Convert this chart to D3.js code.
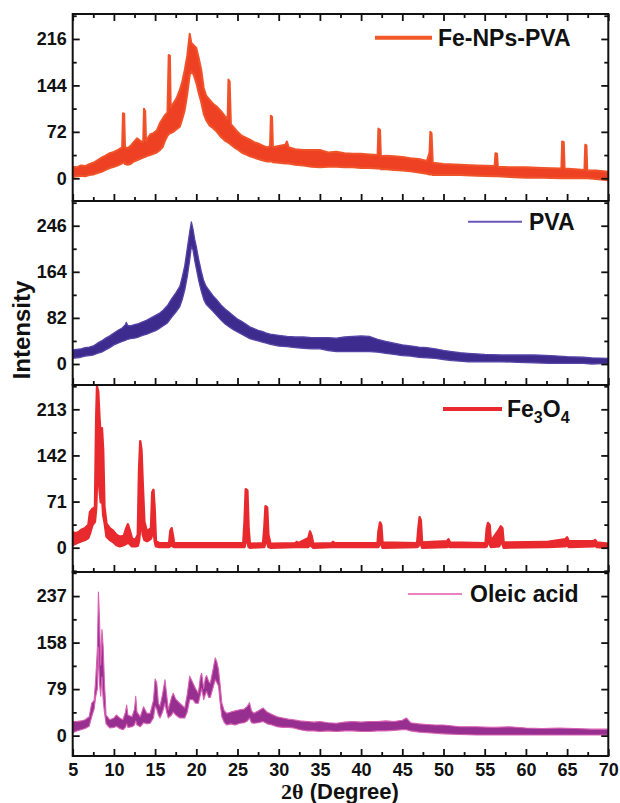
<!DOCTYPE html>
<html lang="en">
<head>
<meta charset="UTF-8">
<title>XRD patterns</title>
<script src="https://d3js.org/d3.v7.min.js"></script>
<style>
  body { margin: 0; background: #fff; }
  svg text { font-family: "Liberation Sans", Arial, sans-serif; font-weight: bold; fill: #111; }
</style>
</head>
<body>
<svg id="chart" width="620" height="803"></svg>
<script>
// each row: [2theta, lower edge of the noisy trace, upper edge]
const feNpsPva = [
  [5, 2, 18], [5.5, 3, 17], [6, 4, 20], [6.5, 3, 19], [7, 5, 22], [7.5, 6, 24], [8, 8, 28],
  [8.5, 10, 32], [9, 13, 35], [9.5, 16, 39], [10, 18, 41], [10.5, 20, 44], [11, 23, 48],
  [11.1, 24, 101], [11.25, 24, 100], [11.35, 22, 48], [11.7, 21, 47], [12, 22, 50],
  [12.4, 26, 56], [12.8, 28, 62], [13.2, 30, 58], [13.55, 32, 56], [13.65, 33, 108],
  [13.8, 33, 104], [13.9, 34, 58], [14.4, 36, 68], [14.8, 38, 70], [15.2, 40, 74],
  [15.6, 44, 86], [15.9, 48, 92], [16.2, 58, 98], [16.5, 66, 102], [16.65, 68, 191],
  [16.8, 70, 190], [16.9, 70, 110], [17.2, 72, 116], [17.6, 76, 124], [18, 80, 137],
  [18.3, 92, 150], [18.6, 106, 168], [18.9, 130, 190], [19.2, 160, 224], [19.4, 166, 210],
  [19.7, 160, 206], [20, 148, 202], [20.3, 132, 186], [20.6, 118, 168], [20.9, 100, 140],
  [21.2, 90, 128], [21.6, 82, 122], [22, 78, 116], [22.5, 72, 111], [23, 64, 104],
  [23.5, 58, 96], [23.8, 56, 92], [23.9, 55, 153], [24.05, 54, 150], [24.2, 52, 84],
  [24.6, 48, 78], [25, 45, 72], [25.5, 40, 66], [26, 37, 63], [26.5, 34, 60], [27, 32, 56],
  [27.5, 30, 54], [28, 28, 51], [28.6, 26, 48], [28.95, 26, 50], [29.05, 26, 97],
  [29.2, 26, 95], [29.3, 25, 48], [30, 24, 50], [30.8, 23, 52], [31, 23, 57], [31.2, 23, 48],
  [32, 21, 45], [33, 20, 44], [34, 18, 44], [35, 17, 44], [36, 18, 40], [37, 18, 41],
  [38, 17, 39], [39, 17, 38], [40, 16, 38], [41, 16, 37], [42, 15, 36], [42.1, 15, 77],
  [42.3, 15, 75], [42.4, 14, 34], [43, 14, 35], [44, 13, 34], [45, 12, 33], [46, 11, 31],
  [47, 9, 30], [48, 7, 27], [48.3, 6, 40], [48.4, 6, 72], [48.55, 6, 70], [48.7, 5, 24],
  [50, 5, 22], [52, 5, 21], [54, 4, 20], [56.2, 3, 19], [56.3, 3, 39], [56.5, 3, 38],
  [56.6, 3, 18], [58, 2, 17], [60, 1, 17], [62, 1, 16], [64.3, 0, 15], [64.4, 0, 57],
  [64.6, 0, 56], [64.7, 0, 15], [66, 0, 14], [67.1, 0, 13], [67.2, 0, 52], [67.35, 0, 51],
  [67.45, 0, 12], [68.5, -1, 12], [70, -3, 10]
];

const pva = [
  [5, 10, 25], [5.5, 11, 26], [6, 12, 27], [6.5, 14, 29], [7, 15, 30], [7.5, 16, 32],
  [8, 19, 37], [8.5, 21, 41], [9, 25, 46], [9.5, 29, 50], [10, 34, 55], [10.5, 37, 60],
  [11, 40, 64], [11.4, 42, 70], [11.5, 43, 74], [11.7, 44, 68], [12, 45, 68], [12.5, 46, 70],
  [13, 48, 72], [13.5, 51, 75], [14, 53, 78], [14.5, 56, 82], [15, 59, 86], [15.5, 63, 90],
  [16, 68, 96], [16.5, 73, 104], [17, 83, 116], [17.5, 92, 126], [18, 102, 138],
  [18.3, 115, 155], [18.6, 132, 175], [18.9, 155, 205], [19.2, 185, 235], [19.4, 209, 253],
  [19.6, 203, 240], [19.8, 185, 222], [20, 170, 209], [20.3, 148, 185], [20.6, 130, 165],
  [20.9, 115, 148], [21.2, 106, 138], [21.6, 100, 130], [22, 94, 122], [22.5, 86, 114],
  [23, 78, 105], [23.5, 71, 98], [24, 66, 92], [24.5, 61, 86], [25, 57, 80], [25.5, 53, 76],
  [26, 49, 71], [26.5, 45, 66], [27, 43, 63], [27.5, 41, 60], [28, 39, 58], [28.5, 37, 55],
  [29, 35, 53], [30, 32, 51], [31, 31, 49], [32, 29, 48], [33, 28, 48], [34, 27, 47],
  [35, 27, 47], [36, 24, 47], [37, 22, 46], [38, 22, 48], [39, 22, 49], [40, 22, 50],
  [41, 22, 49], [42, 21, 44], [43, 19, 40], [44, 17, 37], [45, 15, 34], [46, 14, 32],
  [47, 12, 30], [48, 11, 29], [49, 10, 27], [50, 8, 24], [51, 6, 22], [52, 5, 20],
  [53, 4, 19], [55, 4, 17], [57, 4, 16], [59, 3, 16], [61, 2, 16], [63, 1, 15], [65, 1, 13],
  [67, 1, 12], [68, 0, 11], [70, 1, 10]
];

const fe3o4 = [
  [5, 4, 24], [5.3, 6, 22], [5.7, 8, 24], [6.1, 10, 28], [6.5, 12, 30], [6.9, 15, 35],
  [7.1, 22, 55], [7.4, 35, 60], [7.7, 40, 62], [7.85, 60, 200], [7.95, 100, 248],
  [8.1, 120, 240], [8.25, 90, 200], [8.4, 70, 170], [8.55, 80, 184], [8.7, 50, 150],
  [8.85, 40, 63], [9.1, 17, 37], [9.5, 12, 30], [9.9, 9, 26], [10.3, 4, 20], [10.7, 2, 17],
  [11.2, 4, 18], [11.5, 6, 30], [11.7, 8, 36], [11.9, 6, 28], [12.2, 2, 14], [12.6, 2, 12],
  [12.9, 3, 20], [13.05, 10, 120], [13.2, 30, 164], [13.35, 40, 150], [13.5, 20, 99],
  [13.7, 12, 40], [14, 10, 25], [14.3, 12, 28], [14.5, 14, 30], [14.65, 20, 85],
  [14.8, 30, 89], [14.95, 10, 60], [15.1, 2, 10], [15.5, 1, 7], [16, 1, 7], [16.7, 1, 7],
  [16.85, 3, 26], [17, 4, 30], [17.15, 2, 20], [17.3, 1, 7], [20, 1, 7], [23, 1, 7],
  [25.7, 1, 7], [25.85, 1, 40], [26, 10, 90], [26.2, 10, 88], [26.35, 1, 30], [26.5, 0, 6],
  [28.1, 1, 7], [28.25, 1, 30], [28.4, 8, 64], [28.6, 8, 62], [28.75, 1, 20], [29, 0, 6],
  [32, 1, 7], [32.2, 1, 9], [32.4, 1, 7], [33.6, 1, 15], [33.8, 4, 25], [34, 2, 18],
  [34.2, 0, 6], [36.4, 1, 7], [36.6, 1, 9], [36.8, 1, 7], [42, 1, 7], [42.1, 1, 25],
  [42.3, 8, 39], [42.45, 5, 35], [42.6, 0, 8], [46.8, 1, 7], [46.95, 2, 30], [47.1, 8, 47],
  [47.25, 6, 42], [47.4, 0, 8], [50.4, 1, 10], [50.6, 2, 13], [50.8, 1, 8], [55.1, 1, 7],
  [55.25, 2, 30], [55.4, 8, 38], [55.6, 6, 35], [55.75, 1, 10], [56.75, 2, 28],
  [56.95, 8, 33], [57.15, 6, 30], [57.3, 0, 8], [62.4, 1, 9], [62.6, 1, 9], [64.8, 2, 13],
  [65, 4, 16], [65.2, 1, 10], [68.2, 2, 10], [68.4, 3, 12], [68.6, 1, 8], [70, 0, 6]
];

const oleicAcid = [
  [5, 5, 24], [5.5, 8, 24], [6, 10, 25], [6.5, 12, 27], [7, 16, 32], [7.3, 32, 55],
  [7.6, 45, 60], [7.8, 67, 98], [8, 80, 150], [8.12, 150, 244], [8.25, 90, 200],
  [8.4, 67, 120], [8.55, 100, 180], [8.7, 60, 150], [8.85, 40, 92], [9.05, 20, 35],
  [9.5, 13, 27], [10, 14, 30], [10.3, 16, 35], [10.7, 12, 30], [11.1, 10, 27], [11.4, 14, 40],
  [11.55, 20, 52], [11.7, 14, 35], [12.2, 15, 32], [12.5, 18, 45], [12.65, 25, 67],
  [12.8, 18, 40], [13.2, 15, 32], [13.6, 22, 49], [14, 20, 38], [14.4, 21, 38],
  [14.8, 30, 60], [15, 50, 96], [15.2, 45, 90], [15.4, 35, 55], [15.6, 30, 50],
  [15.9, 40, 70], [16.2, 55, 95], [16.4, 40, 70], [16.6, 30, 44], [17, 35, 65],
  [17.2, 40, 72], [17.5, 35, 62], [18, 30, 55], [18.6, 30, 47], [18.9, 40, 70],
  [19.2, 61, 101], [19.6, 61, 89], [19.9, 55, 80], [20.25, 55, 72], [20.5, 70, 100],
  [20.65, 80, 106], [20.9, 61, 80], [21.1, 70, 98], [21.25, 75, 102], [21.5, 65, 92],
  [21.7, 65, 89], [22, 80, 110], [22.3, 95, 132], [22.5, 90, 125], [22.7, 84, 112],
  [22.9, 55, 85], [23.1, 32, 55], [23.4, 22, 42], [23.7, 18, 38], [24.2, 20, 40],
  [24.7, 18, 42], [25.3, 21, 44], [25.8, 22, 45], [26.2, 25, 50], [26.45, 30, 56],
  [26.7, 22, 42], [27, 21, 38], [27.5, 22, 42], [28.1, 24, 47], [28.6, 20, 40],
  [29.2, 18, 36], [29.8, 15, 32], [30.5, 14, 30], [31.2, 14, 28], [31.8, 13, 27],
  [32.6, 10, 25], [33.5, 8, 24], [34.3, 8, 23], [35, 7, 24], [36, 8, 22], [37, 7, 21],
  [38, 8, 23], [39, 8, 24], [40, 7, 23], [41, 7, 24], [42, 8, 24], [43, 8, 25], [44, 9, 24],
  [45, 10, 26], [45.5, 10, 30], [46, 8, 22], [47, 6, 20], [48, 5, 19], [49, 4, 18],
  [50, 3, 18], [52, 2, 15], [54, 1, 15], [56, 1, 14], [58, 1, 15], [60, 1, 13], [62, 1, 12],
  [64, 1, 13], [66, 1, 12], [68, 1, 11], [70, 1, 11]
];

const ticksFeNpsPva = [0, 72, 144, 216];
const ticksPva = [0, 82, 164, 246];
const ticksFe3o4 = [0, 71, 142, 213];
const ticksOleicAcid = [0, 79, 158, 237];
const xTicks = [5, 10, 15, 20, 25, 30, 35, 40, 45, 50, 55, 60, 65, 70];

const svg = d3.select("#chart");
const left = 72.7, right = 608.3;

const x = d3.scaleLinear().domain([5, 70]).range([left, right]);

const panels = [
  { label: "Fe-NPs-PVA", data: feNpsPva, ticks: ticksFeNpsPva, top: 14, bottom: 201,
    domain: [-35.2, 254.7], fill: "#ee4124", edge: "#f0532a", edgeW: 2,
    key: "#f15a26", keyW: 4, keyX: [375, 432], keyY: 37.7, textX: 438 },
  { label: "PVA", data: pva, ticks: ticksPva, top: 201, bottom: 385,
    domain: [-37.4, 290], fill: "#3d2c8d", edge: "#5544a6", edgeW: 1.3,
    key: "#6b57b8", keyW: 2, keyX: [468, 522], keyY: 221.7, textX: 529 },
  { label: "Fe3O4", data: fe3o4, ticks: ticksFe3o4, top: 385, bottom: 572,
    domain: [-37.4, 250.4], fill: "#e8292d", edge: "#e8292d", edgeW: 2.4,
    key: "#e8292d", keyW: 4, keyX: [443, 502], keyY: 409, textX: 507 },
  { label: "Oleic acid", data: oleicAcid, ticks: ticksOleicAcid, top: 572, bottom: 756,
    domain: [-34.6, 277.9], fill: "#962f8f", edge: "#d861b2", edgeW: 1.1,
    key: "#ea82c2", keyW: 2, keyX: [408, 462], keyY: 594, textX: 470 }
];

const defs = svg.append("defs");

panels.forEach((p, i) => {
  const y = d3.scaleLinear().domain(p.domain).range([p.bottom, p.top]);
  const g = svg.append("g");

  defs.append("clipPath").attr("id", "clip" + i)
    .append("rect").attr("x", left).attr("y", p.top)
    .attr("width", right - left).attr("height", p.bottom - p.top);

  const area = d3.area()
    .x(d => x(d[0]))
    .y0(d => y(d[1]))
    .y1(d => y(d[2]));

  g.append("path")
    .datum(p.data)
    .attr("clip-path", `url(#clip${i})`)
    .attr("d", area)
    .attr("fill", p.fill)
    .attr("stroke", p.edge)
    .attr("stroke-width", p.edgeW)
    .attr("stroke-linejoin", "round");

  // y axes: majors with labels on the left, minors halfway
  const step = p.ticks[1] - p.ticks[0];
  const minors = [];
  for (let v = -step / 2; v <= p.domain[1]; v += step) if (v >= p.domain[0]) minors.push(v);

  g.append("g").attr("class", "ax").attr("transform", `translate(${left},0)`)
    .call(d3.axisLeft(y).tickValues(p.ticks).tickSizeInner(-7).tickSizeOuter(0).tickPadding(6));
  g.append("g").attr("class", "ax").attr("transform", `translate(${left},0)`)
    .call(d3.axisLeft(y).tickValues(minors).tickSizeInner(-4).tickSizeOuter(0).tickFormat(""));
  g.append("g").attr("class", "ax").attr("transform", `translate(${right},0)`)
    .call(d3.axisRight(y).tickValues(p.ticks).tickSizeInner(-7).tickSizeOuter(0).tickFormat(""));
  g.append("g").attr("class", "ax").attr("transform", `translate(${right},0)`)
    .call(d3.axisRight(y).tickValues(minors).tickSizeInner(-4).tickSizeOuter(0).tickFormat(""));

  // bottom axis of each panel, labels only on the last
  const last = i === panels.length - 1;
  const xMinors = xTicks.slice(0, -1).map(v => v + 2.5);
  g.append("g").attr("class", "ax").attr("transform", `translate(0,${p.bottom})`)
    .call(d3.axisBottom(x).tickValues(xTicks).tickSizeInner(-7).tickSizeOuter(0).tickPadding(7)
      .tickFormat(last ? d3.format("d") : ""));
  g.append("g").attr("class", "ax").attr("transform", `translate(0,${p.bottom})`)
    .call(d3.axisBottom(x).tickValues(xMinors).tickSizeInner(-4).tickSizeOuter(0).tickFormat(""));
  if (i === 0) {
    g.append("g").attr("class", "ax").attr("transform", `translate(0,${p.top})`)
      .call(d3.axisTop(x).tickValues(xTicks).tickSizeInner(-7).tickSizeOuter(0).tickFormat(""));
    g.append("g").attr("class", "ax").attr("transform", `translate(0,${p.top})`)
      .call(d3.axisTop(x).tickValues(xMinors).tickSizeInner(-4).tickSizeOuter(0).tickFormat(""));
  }

  g.append("rect")
    .attr("x", left).attr("y", p.top)
    .attr("width", right - left).attr("height", p.bottom - p.top)
    .attr("fill", "none").attr("stroke", "#111").attr("stroke-width", 2);

  // legend
  g.append("line")
    .attr("x1", p.keyX[0]).attr("x2", p.keyX[1])
    .attr("y1", p.keyY).attr("y2", p.keyY)
    .attr("stroke", p.key).attr("stroke-width", p.keyW);
  const t = g.append("text").attr("x", p.textX).attr("y", p.keyY + 8.3)
    .style("font-size", "23px");
  if (p.label === "Fe3O4") {
    t.append("tspan").text("Fe");
    t.append("tspan").attr("dy", 6).style("font-size", "16px").text("3");
    t.append("tspan").attr("dy", -6).text("O");
    t.append("tspan").attr("dy", 6).style("font-size", "16px").text("4");
  } else {
    t.text(p.label);
  }
});

svg.selectAll(".ax .domain").remove();
svg.selectAll(".ax line").attr("stroke", "#111").attr("stroke-width", 1.8);
svg.selectAll(".ax text").style("font-size", "18px").attr("fill", "#111");

svg.append("text")
  .attr("transform", "translate(30,330) rotate(-90)")
  .attr("text-anchor", "middle")
  .style("font-size", "24px")
  .text("Intensity");

const xt = svg.append("text")
  .attr("x", 340).attr("y", 799)
  .attr("text-anchor", "middle")
  .style("font-size", "22px");
xt.append("tspan").style("font-family", "'Liberation Serif', 'Times New Roman', serif").text("2θ");
xt.append("tspan").text(" (Degree)");
</script>
</body>
</html>
